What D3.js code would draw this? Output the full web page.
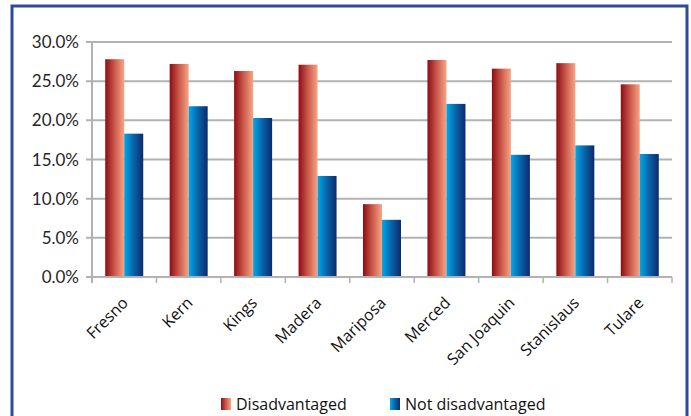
<!DOCTYPE html>
<html><head><meta charset="utf-8">
<script src="https://cdn.jsdelivr.net/npm/d3@7"></script>
<style>body{margin:0;background:#fff;}svg{display:block;}</style>
</head><body>
<svg id="c" width="691" height="416"></svg>
<script>
const categories = ["Fresno","Kern","Kings","Madera","Mariposa","Merced","San Joaquin","Stanislaus","Tulare"];
const disadvantaged = [27.8,27.2,26.3,27.1,9.3,27.7,26.6,27.3,24.6];
const notDisadvantaged = [18.3,21.8,20.3,12.9,7.3,22.1,15.6,16.8,15.7];
const seriesNames = ["Disadvantaged","Not disadvantaged"];
const yTicks = [0,5,10,15,20,25,30];

const svg = d3.select("#c");
const defs = svg.append("defs");
function grad(id, stops){
  const g = defs.append("linearGradient").attr("id",id).attr("x1","0").attr("x2","1").attr("y1","0").attr("y2","0");
  stops.forEach(s=>g.append("stop").attr("offset",s[0]).attr("stop-color",s[1]));
}
grad("gRed",[[0,"#8e0c14"],[0.5,"#cc5a4c"],[1,"#f7a584"]]);
grad("gBlue",[[0,"#00a8e8"],[0.5,"#0a62a8"],[1,"#0c2a6c"]]);

// border
svg.append("rect").attr("x",12).attr("y",6).attr("width",675).attr("height",420)
  .attr("fill","none").attr("stroke","#2e4a9c").attr("stroke-width",3);

const m = {l:92, r:672, t:42, b:277};
const x = d3.scaleBand().domain(categories).range([m.l,m.r]);
const y = d3.scaleLinear().domain([0,30]).range([m.b,m.t]);
const bw = 19;

// gridlines
svg.append("g").selectAll("line").data(yTicks).join("line")
  .attr("x1",m.l-6).attr("x2",m.r).attr("y1",d=>y(d)).attr("y2",d=>y(d))
  .attr("stroke","#b2b2b2").attr("stroke-width",2);

// y labels
svg.append("g").selectAll("text").data(yTicks).join("text")
  .attr("x",79).attr("y",d=>y(d)).attr("dy","0.36em").attr("text-anchor","end")
  .attr("font-family","Lato, 'Open Sans', sans-serif").attr("font-size",17).attr("fill","#262626")
  .text(d=>d.toFixed(1)+"%");

// axis left line
svg.append("line").attr("x1",m.l).attr("x2",m.l).attr("y1",m.t).attr("y2",m.b+6)
  .attr("stroke","#b2b2b2").attr("stroke-width",2);
// x ticks
svg.append("g").selectAll("line").data(categories).join("line")
  .attr("x1",d=>x(d)+x.bandwidth()).attr("x2",d=>x(d)+x.bandwidth())
  .attr("y1",m.b).attr("y2",m.b+6).attr("stroke","#b2b2b2").attr("stroke-width",1.5);

// bars
const cx = d=>x(d)+x.bandwidth()/2;
svg.append("g").selectAll("rect").data(categories).join("rect")
  .attr("x",d=>cx(d)-bw).attr("width",bw)
  .attr("y",(d,i)=>y(disadvantaged[i])).attr("height",(d,i)=>y(0)-y(disadvantaged[i]))
  .attr("fill","url(#gRed)");
svg.append("g").selectAll("rect").data(categories).join("rect")
  .attr("x",d=>cx(d)).attr("width",bw)
  .attr("y",(d,i)=>y(notDisadvantaged[i])).attr("height",(d,i)=>y(0)-y(notDisadvantaged[i]))
  .attr("fill","url(#gBlue)");
// baseline
svg.append("line").attr("x1",m.l).attr("x2",m.r).attr("y1",m.b).attr("y2",m.b)
  .attr("stroke","#b2b2b2").attr("stroke-width",2);

// x labels
svg.append("g").selectAll("text").data(categories).join("text")
  .attr("transform",d=>`translate(${cx(d)-3},${m.b+19}) rotate(-45)`)
  .attr("text-anchor","end").attr("dy","0.7em")
  .attr("font-family","'Open Sans', sans-serif").attr("font-size",16).attr("fill","#111")
  .text(d=>d);

// legend
const lg = svg.append("g");
const lx = [221,390];
["gRed","gBlue"].forEach((g,i)=>{
  lg.append("rect").attr("x",lx[i]).attr("y",398).attr("width",10).attr("height",12).attr("fill",`url(#${g})`);
  lg.append("text").attr("x",lx[i]+15).attr("y",410).attr("font-family","'Open Sans', sans-serif")
    .attr("font-size",16).attr("fill","#111").text(seriesNames[i]);
});
</script>
</body></html>
